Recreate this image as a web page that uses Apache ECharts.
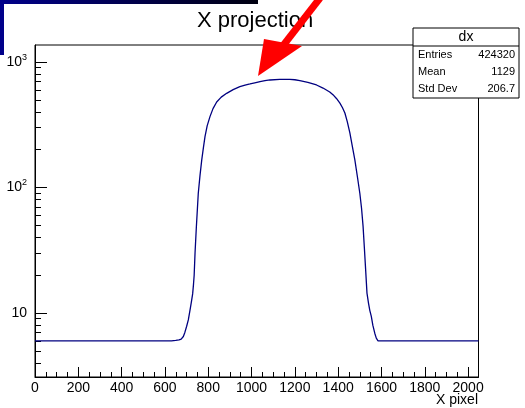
<!DOCTYPE html>
<html>
<head>
<meta charset="utf-8">
<script src="https://cdn.jsdelivr.net/npm/echarts@6/dist/echarts.min.js"></script>
<style>html,body{margin:0;padding:0;background:#fff;}#c{width:525px;height:408px;}</style>
</head>
<body>
<div id="c"></div>
<script>
// ---- data ----
const xPixel = [0, 600, 630, 650, 665, 675, 685, 692, 700, 708, 716, 722, 728, 732, 735, 739, 745, 754, 762, 770, 778, 785, 795, 808, 822, 839, 860, 885, 915, 946, 970, 993, 1015, 1039, 1062, 1085, 1130, 1177, 1200, 1223, 1260, 1300, 1330, 1361, 1380, 1392, 1408, 1420, 1431, 1442, 1454, 1465, 1477, 1490, 1500, 1508, 1515, 1521, 1526, 1533, 1540, 1546, 1553, 1560, 1569, 1576, 1584, 1600, 2048];
const counts = [6.0, 6.0, 6.0, 6.05, 6.1, 6.2, 6.5, 7.0, 7.8, 8.8, 10.6, 12.2, 14.2, 17, 20, 30, 48, 90, 125, 166, 210, 254, 310, 367, 425, 480, 525, 563, 602, 636, 655, 668, 683, 697, 710, 719, 726, 728, 722, 710, 688, 656, 620, 577, 540, 512, 470, 432, 392, 335, 272, 215, 166, 118, 90, 68, 49, 33, 23.4, 14.4, 12, 10.5, 9.4, 8, 6.9, 6.3, 6.0, 6.0, 6.0];
const xMajorTicks = [0, 200, 400, 600, 800, 1000, 1200, 1400, 1600, 1800, 2000];
const xMinorTicks = [];
for (let v = 50; v < 2048; v += 50) if (v % 200 !== 0) xMinorTicks.push(v);
const yMajorTicks = [10, 100, 1000];
const yMinorTicks = [4, 5, 6, 7, 8, 9, 20, 30, 40, 50, 60, 70, 80, 90, 200, 300, 400, 500, 600, 700, 800, 900];
const statsName = 'dx';
const statsRows = [['Entries', '424320'], ['Mean', '1129'], ['Std Dev', '206.7']];
const titleText = 'X projection';
const xTitle = 'X pixel';

const FONT = 'Liberation Sans, Arial, Helvetica, sans-serif';
const chart = echarts.init(document.getElementById('c'), null, {renderer: 'canvas'});

const statsGraphics = [
  {type: 'rect', shape: {x: 413, y: 28, width: 106, height: 70}, style: {fill: '#fff', stroke: '#000', lineWidth: 1}, z: 100},
  {type: 'line', shape: {x1: 413, y1: 46, x2: 519, y2: 46}, style: {stroke: '#000', lineWidth: 1}, z: 101},
  {type: 'text', x: 466, y: 37, style: {text: statsName, font: '14px ' + FONT, fill: '#000', align: 'center', verticalAlign: 'middle'}, z: 101}
];
statsRows.forEach((r, i) => {
  statsGraphics.push({type: 'text', x: 418, y: 55 + i * 17, style: {text: r[0], font: '11px ' + FONT, fill: '#000', align: 'left', verticalAlign: 'middle'}, z: 101});
  statsGraphics.push({type: 'text', x: 515, y: 55 + i * 17, style: {text: r[1], font: '11px ' + FONT, fill: '#000', align: 'right', verticalAlign: 'middle'}, z: 101});
});

const decoGraphics = [
  {type: 'rect', shape: {x: 0, y: 0, width: 258, height: 4}, style: {fill: new echarts.graphic.LinearGradient(0, 0, 1, 0, [{offset: 0, color: '#00008a'}, {offset: 1, color: '#000010'}])}, z: 200},
  {type: 'rect', shape: {x: 0, y: 0, width: 4, height: 55}, style: {fill: '#00008a'}, z: 200},
  // red arrow annotation
  {type: 'line', shape: {x1: 320, y1: -2, x2: 282, y2: 47}, style: {stroke: '#ff0000', lineWidth: 7}, z: 200},
  {type: 'polygon', shape: {points: [[258, 76], [264, 39], [302, 46]]}, style: {fill: '#ff0000'}, z: 200},
  // x axis title
  {type: 'text', x: 478, y: 393, style: {text: xTitle, font: '14px ' + FONT, fill: '#000', align: 'right', verticalAlign: 'top'}, z: 50}
];

const option = {
  animation: false,
  backgroundColor: '#fff',
  title: {
    text: titleText, left: 192, top: 5,
    textStyle: {fontFamily: FONT, fontSize: 22, fontWeight: 'normal', color: '#000'}
  },
  grid: {left: 35, right: 46.5, top: 45, bottom: 31, outerBoundsMode: 'none', containLabel: false, show: true, borderColor: '#000', borderWidth: 1, backgroundColor: 'transparent'},
  xAxis: [
    {
      type: 'value', min: 0, max: 2048, position: 'bottom',
      axisLine: {show: true, lineStyle: {color: '#000', width: 1}},
      axisTick: {show: true, inside: true, length: 10, lineStyle: {color: '#000'}, customValues: xMajorTicks},
      axisLabel: {show: true, customValues: xMajorTicks, formatter: v => String(v), fontFamily: FONT, fontSize: 14, color: '#000', margin: 4},
      splitLine: {show: false}
    },
    {
      type: 'value', min: 0, max: 2048, position: 'bottom',
      axisLine: {show: false},
      axisTick: {show: true, inside: true, length: 5, lineStyle: {color: '#000'}, customValues: xMinorTicks},
      axisLabel: {show: false},
      splitLine: {show: false}
    }
  ],
  yAxis: [
    {
      type: 'log', logBase: 10, min: 3.09, max: 1366, position: 'left',
      axisLine: {show: true, lineStyle: {color: '#000', width: 1}},
      axisTick: {show: true, inside: true, length: 12, lineStyle: {color: '#000'}, customValues: yMajorTicks},
      axisLabel: {
        show: true, customValues: yMajorTicks, margin: 8, fontFamily: FONT, fontSize: 14, color: '#000',
        formatter: v => {
          const e = Math.round(Math.log10(v));
          return e === 1 ? '10' : '10{s|' + e + '}';
        },
        rich: {s: {fontFamily: FONT, fontSize: 9, color: '#000', padding: [0, 0, 9, 0]}}
      },
      splitLine: {show: false}
    },
    {
      type: 'log', logBase: 10, min: 3.09, max: 1366, position: 'left',
      axisLine: {show: false},
      axisTick: {show: true, inside: true, length: 6, lineStyle: {color: '#000'}, customValues: yMinorTicks},
      axisLabel: {show: false},
      splitLine: {show: false}
    }
  ],
  series: [{
    type: 'line', xAxisIndex: 0, yAxisIndex: 0,
    data: xPixel.map((x, i) => [x, counts[i]]),
    showSymbol: false, smooth: false,
    lineStyle: {color: '#000080', width: 1.3},
    clip: true
  }],
  graphic: statsGraphics.concat(decoGraphics)
};
chart.setOption(option);
</script>
</body>
</html>
